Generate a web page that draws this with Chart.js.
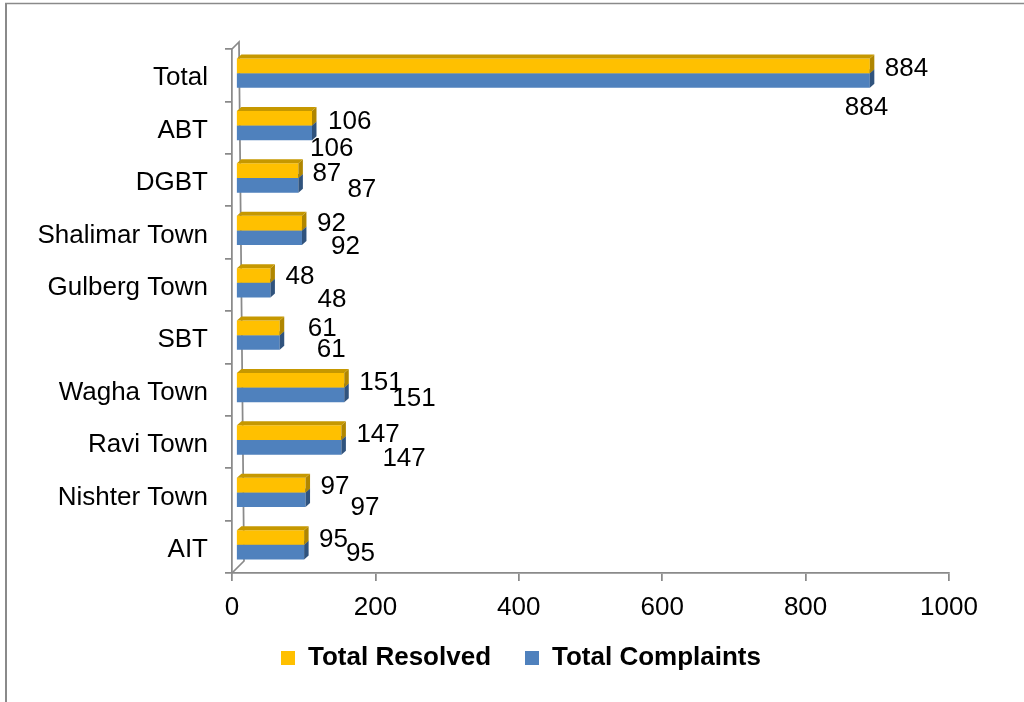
<!DOCTYPE html>
<html>
<head>
<meta charset="utf-8">
<script src="https://cdn.jsdelivr.net/npm/chart.js@4/dist/chart.umd.min.js"></script>
<style>
  html, body { margin: 0; padding: 0; background: #fff; overflow: hidden; }
  canvas { display: block; }
</style>
</head>
<body>
<canvas id="chart" width="1024" height="702"></canvas>
<script>
// Complaints per town
const towns = ['Total', 'ABT', 'DGBT', 'Shalimar Town', 'Gulberg Town', 'SBT',
               'Wagha Town', 'Ravi Town', 'Nishter Town', 'AIT'];
const totalResolved   = [884, 106, 87, 92, 48, 61, 151, 147, 97, 95];
const totalComplaints = [884, 106, 87, 92, 48, 61, 151, 147, 97, 95];

// Value axis
const axisMin = 0;
const axisMax = 1000;
const axisStep = 200;

// Hand-placed value label offsets [dx, dy] from each bar's end
const resolvedLabelNudge = [[15, 3], [16, 4], [14, 3], [15, 1], [15, 1],
                            [28, 1], [15, 3], [15, 2], [15, 2], [15, 2]];
const complaintsLabelNudge = [[-25, 27], [-2, 16], [49, 4], [29, 9], [47, 10],
                              [37, 7], [48, 4], [41, 11], [45, 8], [42, 2]];

const FONT = '"Liberation Sans", Arial, sans-serif';
const FRAME = '#8a8a8a';
const frontColors = ['#FFC000', '#4F81BD'];
const capColors   = ['#C69800', '#3A6494'];
const sideColors  = ['#B08600', '#30537D'];
const depth = { x: 4.5, y: 4 };        // 3D extrusion of each bar
const seriesShift = { x: 4, y: -2 };   // series plane sits slightly inside the wall

// Outer frame of the chart
const framePlugin = {
  id: 'frame',
  beforeDraw(chart) {
    const ctx = chart.ctx;
    ctx.save();
    ctx.fillStyle = '#fff';
    ctx.fillRect(0, 0, chart.width, chart.height);
    ctx.strokeStyle = FRAME;
    ctx.lineWidth = 2;
    ctx.beginPath();
    ctx.moveTo(6, 3); ctx.lineTo(6, chart.height);
    ctx.stroke();
    ctx.lineWidth = 1.5;
    ctx.beginPath();
    ctx.moveTo(5, 3.5); ctx.lineTo(chart.width, 3.5);
    ctx.stroke();
    ctx.restore();
  }
};

// Let long axis labels run past their boxes instead of being clipped
const axisLabelRoom = {
  id: 'axisLabelRoom',
  afterLayout(chart) {
    chart.scales.y.left = 0;
    chart.scales.x.bottom = chart.height;
  }
};

// Back wall edge and extruded bar faces
const bar3dPlugin = {
  id: 'bar3d',
  beforeDatasetsDraw(chart) {
    const { ctx, chartArea: a } = chart;
    ctx.save();
    ctx.strokeStyle = FRAME;
    ctx.lineWidth = 1.75;
    ctx.beginPath();
    ctx.moveTo(a.left, a.top);
    ctx.lineTo(a.left + 7, a.top - 7);
    ctx.lineTo(a.left + 12, a.bottom - 12);
    ctx.lineTo(a.left, a.bottom);
    ctx.stroke();
    ctx.translate(seriesShift.x, seriesShift.y);
  },
  afterDatasetDraw(chart, args) {
    const ctx = chart.ctx;
    const i = args.index;
    args.meta.data.forEach(bar => {
      const { x, y, base, height } = bar.getProps(['x', 'y', 'base', 'height'], true);
      const top = y - height / 2;
      const bottom = y + height / 2;
      ctx.fillStyle = sideColors[i];
      ctx.beginPath();
      ctx.moveTo(x, top);
      ctx.lineTo(x + depth.x, top - depth.y);
      ctx.lineTo(x + depth.x, bottom - depth.y);
      ctx.lineTo(x, bottom);
      ctx.closePath();
      ctx.fill();
      ctx.fillStyle = capColors[i];
      ctx.beginPath();
      ctx.moveTo(base, top);
      ctx.lineTo(base + depth.x, top - depth.y);
      ctx.lineTo(x + depth.x, top - depth.y);
      ctx.lineTo(x, top);
      ctx.closePath();
      ctx.fill();
    });
  },
  afterDatasetsDraw(chart) {
    chart.ctx.restore();
  }
};

// Value labels beside the bars
const valueLabelPlugin = {
  id: 'valueLabels',
  afterDraw(chart) {
    const ctx = chart.ctx;
    ctx.save();
    ctx.font = '26px ' + FONT;
    ctx.fillStyle = '#000';
    ctx.textAlign = 'left';
    ctx.textBaseline = 'middle';
    [[totalResolved, resolvedLabelNudge], [totalComplaints, complaintsLabelNudge]]
      .forEach(([values, nudge], di) => {
        chart.getDatasetMeta(di).data.forEach((bar, i) => {
          const { x, y } = bar.getProps(['x', 'y'], true);
          ctx.fillText(String(values[i]),
            x + seriesShift.x + nudge[i][0],
            y + seriesShift.y + nudge[i][1]);
        });
      });
    ctx.restore();
  }
};

new Chart(document.getElementById('chart'), {
  type: 'bar',
  data: {
    labels: towns,
    datasets: [
      {
        label: 'Total Resolved',
        data: totalResolved,
        backgroundColor: frontColors[0],
        borderWidth: 0,
        categoryPercentage: 0.56,
        barPercentage: 1,
        clip: false
      },
      {
        label: 'Total Complaints',
        data: totalComplaints,
        backgroundColor: frontColors[1],
        borderWidth: 0,
        categoryPercentage: 0.56,
        barPercentage: 1,
        clip: false
      }
    ]
  },
  options: {
    indexAxis: 'y',
    responsive: false,
    animation: false,
    devicePixelRatio: 1,
    layout: { padding: { left: 93, right: 75, top: 49, bottom: 21 } },
    plugins: {
      legend: {
        position: 'bottom',
        labels: {
          font: { family: FONT, size: 26, weight: 'bold' },
          color: '#000',
          boxWidth: 14,
          boxHeight: 14,
          padding: 34
        }
      },
      tooltip: { enabled: false }
    },
    scales: {
      x: {
        min: axisMin,
        max: axisMax,
        ticks: {
          stepSize: axisStep,
          font: { family: FONT, size: 26 },
          color: '#000',
          padding: 11,
          callback: v => String(v)
        },
        grid: { drawOnChartArea: false, drawTicks: true, tickLength: 8, color: FRAME, lineWidth: 1.75 },
        border: { color: FRAME, width: 1.75 },
        afterFit(scale) { scale.height = 38; }
      },
      y: {
        ticks: { font: { family: FONT, size: 26 }, color: '#000', padding: 17, autoSkip: false, labelOffset: 3 },
        grid: { offset: true, drawOnChartArea: false, drawTicks: true, tickLength: 7, color: FRAME, lineWidth: 1.75 },
        border: { color: FRAME, width: 1.75 },
        afterFit(scale) { scale.width = 139; }
      }
    }
  },
  plugins: [framePlugin, axisLabelRoom, bar3dPlugin, valueLabelPlugin]
});
</script>
</body>
</html>
